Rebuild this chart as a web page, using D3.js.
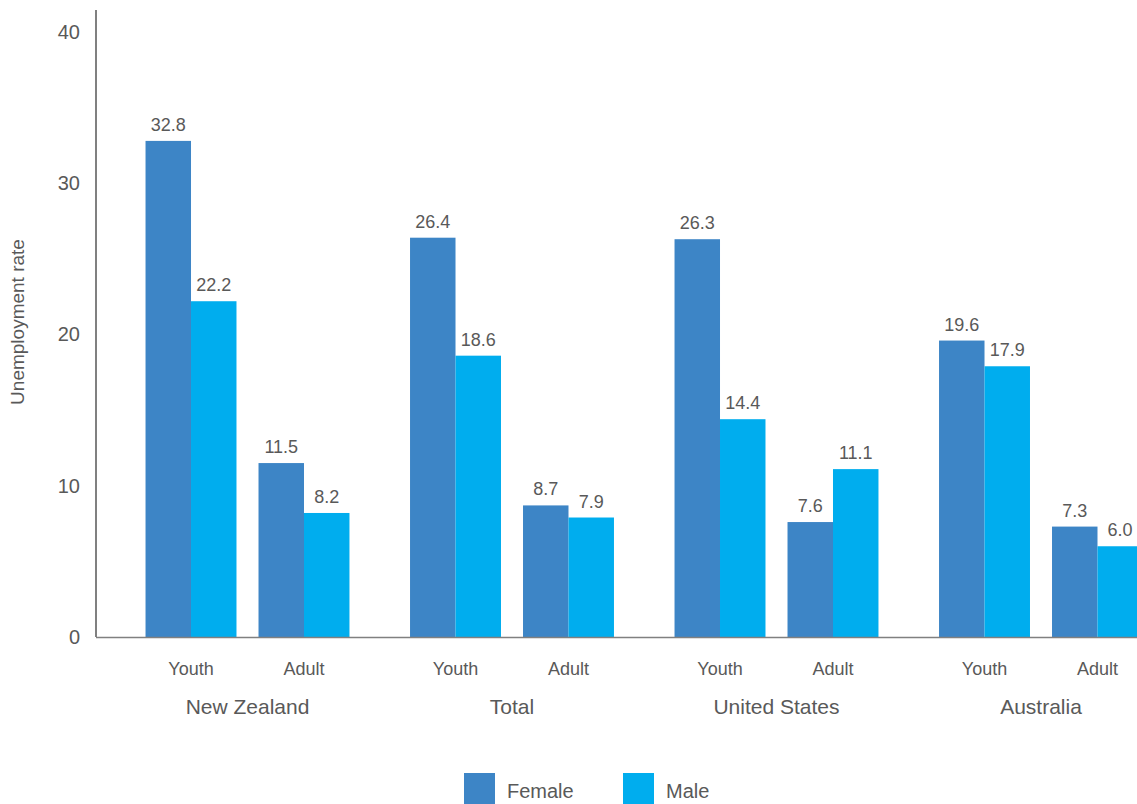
<!DOCTYPE html>
<html><head><meta charset="utf-8">
<script src="https://cdn.jsdelivr.net/npm/d3@7"></script>
<style>body{margin:0;background:#fff}svg{display:block}text{font-family:"Liberation Sans",Arial,sans-serif;fill:#595959}</style>
</head><body><svg id="c" width="1137" height="804"></svg>
<script>
const countries = ["New Zealand","Total","United States","Australia"];
const ageGroups = ["Youth","Adult"];
const seriesNames = ["Female","Male"];
const female = [32.8, 11.5, 26.4, 8.7, 26.3, 7.6, 19.6, 7.3];
const male   = [22.2, 8.2, 18.6, 7.9, 14.4, 11.1, 17.9, 6.0];
const yTicks = [0,10,20,30,40];
const colors = ["#3d85c6","#00adee"];

const svg = d3.select("#c");
const y = d3.scaleLinear().domain([0,40]).range([637,32]);
const xC = d3.scaleBand().domain(countries).range([115.25,1173.25]).paddingInner(0).paddingOuter(0);
const xA = d3.scaleBand().domain(ageGroups).range([0,xC.bandwidth()]).paddingInner(0.195).paddingOuter(0.268);
const xS = d3.scaleBand().domain(seriesNames).range([0,xA.bandwidth()]);

const rows = [];
countries.forEach((c,i)=>ageGroups.forEach((a,j)=>{
  const k=i*2+j;
  rows.push({c,a,vals:[female[k],male[k]]});
}));

const gBars = svg.append("g");
rows.forEach(r=>{
  const x0 = xC(r.c)+xA(r.a);
  r.vals.forEach((v,s)=>{
    const xx = x0 + xS(seriesNames[s]);
    gBars.append("rect").attr("x",xx).attr("y",y(v)).attr("width",xS.bandwidth()).attr("height",y(0)-y(v)).attr("fill",colors[s]);
    gBars.append("text").attr("x",Math.min(xx+xS.bandwidth()/2,1120)).attr("y",y(v)-10).attr("text-anchor","middle").attr("font-size",18).text(v.toFixed(1));
  });
  svg.append("text").attr("x",x0+xA.bandwidth()/2).attr("y",675).attr("text-anchor","middle").attr("font-size",18).text(r.a);
});
countries.forEach(c=>{
  svg.append("text").attr("x",xC(c)+xC.bandwidth()/2).attr("y",714).attr("text-anchor","middle").attr("font-size",21).text(c);
});

// axes
const yAxis = d3.axisLeft(y).tickValues(yTicks).tickSize(0).tickPadding(16);
const ga = svg.append("g").attr("transform","translate(96,0)").call(yAxis);
ga.select(".domain").remove();
ga.selectAll("text").attr("font-size",20).style("font-family","Liberation Sans, Arial, sans-serif").attr("fill","#595959");
svg.append("line").attr("x1",96).attr("x2",96).attr("y1",10).attr("y2",637).attr("stroke","#808080").attr("stroke-width",2);
svg.append("line").attr("x1",96).attr("x2",1137).attr("y1",637.5).attr("y2",637.5).attr("stroke","#808080").attr("stroke-width",1.5);

svg.append("text").attr("transform","translate(24,322) rotate(-90)").attr("text-anchor","middle").attr("font-size",19).text("Unemployment rate");

// legend
const leg = [{n:"Female",x:464},{n:"Male",x:623}];
leg.forEach((l,i)=>{
  svg.append("rect").attr("x",l.x).attr("y",773).attr("width",31).attr("height",31).attr("fill",colors[i]);
  svg.append("text").attr("x",l.x+43).attr("y",798).attr("font-size",20).text(seriesNames[i]);
});
</script></body></html>
